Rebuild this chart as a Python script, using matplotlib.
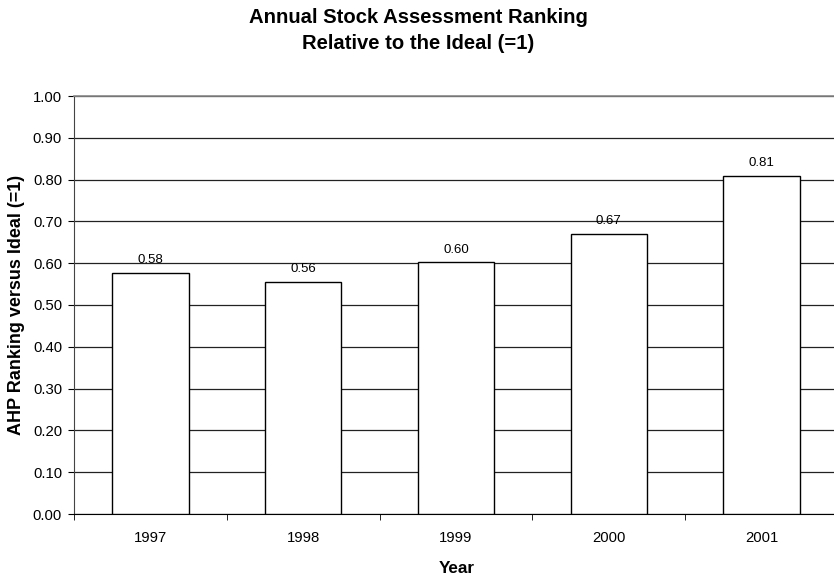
import numpy as np
import matplotlib.pyplot as plt

plt.rcParams['font.family'] = ['Liberation Sans', 'DejaVu Sans']

years = ['1997', '1998', '1999', '2000', '2001']
ranking = [0.577, 0.556, 0.602, 0.670, 0.809]
yticks = [0.0, 0.1, 0.2, 0.3, 0.4, 0.5, 0.6, 0.7, 0.8, 0.9, 1.0]

W, H = 834, 579
fig = plt.figure(figsize=(W / 100, H / 100), dpi=100)
ax = fig.add_axes([74 / W, 1 - 514 / H, 764 / W, 418 / H])

x = np.arange(len(years))
bars = ax.bar(x, ranking, width=0.5, color='white', edgecolor='black', linewidth=1.0, zorder=3)

for b, v in zip(bars, ranking):
    ax.annotate(f"{v:.2f}", (b.get_x() + b.get_width() / 2, v), xytext=(0, 7),
                textcoords='offset points', ha='center', va='baseline', fontsize=9.5)

ax.set_xlim(-0.5, len(years) - 0.5)
ax.set_ylim(0, 1.0)
ax.set_yticks(yticks)
ax.set_yticklabels([f"{t:.2f}" for t in yticks], fontsize=10.7)
ax.set_xticks(x)
ax.set_xticklabels(years, fontsize=10.7)
ax.set_xticks(np.arange(-0.5, len(years)), minor=True)
ax.tick_params(axis='x', which='major', length=0, pad=12.5)
ax.tick_params(axis='x', which='minor', length=4.3, direction='out')
ax.tick_params(axis='y', length=4.3, pad=4.3, direction='out')

ax.yaxis.grid(True, color='#222222', linewidth=0.9, zorder=0)
ax.spines['right'].set_visible(False)
ax.spines['top'].set_color('#888888')
ax.spines['top'].set_linewidth(1.2)
ax.spines['left'].set_color('#444444')
ax.spines['bottom'].set_color('black')

fig.text(456.7 / W, 1 - 573 / H, 'Year', ha='center', va='baseline', fontsize=12.3, fontweight='bold')
fig.text(17 / W, 1 - 305 / H, 'AHP Ranking versus Ideal (=1)', rotation=90,
         ha='center', va='center', fontsize=13, fontweight='bold')
fig.text(418 / W, 1 - 23.3 / H, 'Annual Stock Assessment Ranking',
         ha='center', va='baseline', fontsize=14.6, fontweight='bold')
fig.text(418 / W, 1 - 49.3 / H, 'Relative to the Ideal (=1)',
         ha='center', va='baseline', fontsize=14.6, fontweight='bold')

fig.savefig('out.png', dpi=100)
